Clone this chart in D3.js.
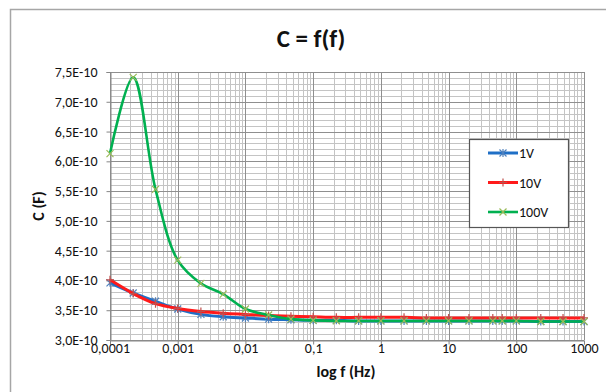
<!DOCTYPE html>
<html><head><meta charset="utf-8">
<script src="https://cdn.jsdelivr.net/npm/d3@7"></script>
<style>
body{margin:0;background:#fff;}
text{font-family:Carlito,Lato,"Open Sans",sans-serif;}
</style></head>
<body><svg id="c" width="606" height="392"></svg>
<script>
const freqs = [0.0001, 0.00022, 0.00047, 0.001, 0.0022, 0.0047, 0.01, 0.022, 0.047, 0.1, 0.22, 0.47, 1, 2.2, 4.7, 10, 20, 45, 62, 100, 230, 490, 1000];
const v1V   = [3.96, 3.79, 3.65, 3.52, 3.43, 3.39, 3.37, 3.35, 3.34, 3.33, 3.33, 3.32, 3.32, 3.32, 3.32, 3.32, 3.32, 3.32, 3.32, 3.32, 3.31, 3.31, 3.31];
const v10V  = [4.01, 3.78, 3.61, 3.53, 3.48, 3.45, 3.43, 3.41, 3.40, 3.39, 3.38, 3.38, 3.38, 3.38, 3.37, 3.37, 3.37, 3.37, 3.37, 3.37, 3.37, 3.37, 3.37];
const v100V = [6.13, 7.41, 5.53, 4.34, 3.95, 3.77, 3.52, 3.42, 3.35, 3.33, 3.32, 3.32, 3.32, 3.32, 3.32, 3.32, 3.32, 3.32, 3.32, 3.32, 3.31, 3.31, 3.31];
const seriesNames = ["1V", "10V", "100V"];
const xTickValues = [0.0001, 0.001, 0.01, 0.1, 1, 10, 100, 1000];
const xTickLabels = ["0,0001", "0,001", "0,01", "0,1", "1", "10", "100", "1000"];
const yTickValues = [3.0, 3.5, 4.0, 4.5, 5.0, 5.5, 6.0, 6.5, 7.0, 7.5];
const yTickLabels = ["3,0E-10", "3,5E-10", "4,0E-10", "4,5E-10", "5,0E-10", "5,5E-10", "6,0E-10", "6,5E-10", "7,0E-10", "7,5E-10"];
const titleText = "C = f(f)";
const xTitle = "log f (Hz)";
const yTitle = "C (F)";

const svg = d3.select("#c");
const L = 110, R = 584, T = 72, B = 340;
const x = d3.scaleLog().domain([0.0001, 1000]).range([L, R]);
const y = d3.scaleLinear().domain([3.0, 7.5]).range([B, T]);

svg.append("rect").attr("width",606).attr("height",392).attr("fill","#fff");
svg.append("rect").attr("x",10.5).attr("y",9.5).attr("width",620).attr("height",420)
  .attr("fill","none").attr("stroke","#a6a6a6").attr("stroke-width",1.5);

const g = svg.append("g");
const minorY = d3.range(30, 76).map(d => d/10).filter(d => Math.abs(d*2 - Math.round(d*2)) > 1e-6);
g.selectAll(".hy").data(minorY).enter().append("line")
  .attr("x1",L).attr("x2",R).attr("y1",d=>Math.round(y(d))+0.5).attr("y2",d=>Math.round(y(d))+0.5)
  .attr("stroke","#c4c4c4").attr("stroke-width",1);
const minorX = [];
for (let e = -4; e < 3; e++) for (let k = 2; k <= 9; k++) minorX.push(k*Math.pow(10,e));
g.selectAll(".vx").data(minorX).enter().append("line")
  .attr("y1",T).attr("y2",B).attr("x1",d=>Math.round(x(d))+0.5).attr("x2",d=>Math.round(x(d))+0.5)
  .attr("stroke","#c4c4c4").attr("stroke-width",1);
g.selectAll(".hY").data(yTickValues).enter().append("line")
  .attr("x1",L).attr("x2",R).attr("y1",d=>Math.round(y(d))+0.5).attr("y2",d=>Math.round(y(d))+0.5)
  .attr("stroke","#8f8f8f").attr("stroke-width",1);
g.selectAll(".vX").data(xTickValues).enter().append("line")
  .attr("y1",T).attr("y2",B).attr("x1",d=>Math.round(x(d))+0.5).attr("x2",d=>Math.round(x(d))+0.5)
  .attr("stroke","#8f8f8f").attr("stroke-width",1);

const ya = svg.append("g").attr("transform",`translate(${L+0.5},0)`)
  .call(d3.axisLeft(y).tickValues(yTickValues).tickFormat((d,i)=>yTickLabels[i]).tickSize(4).tickPadding(9));
const xa = svg.append("g").attr("transform",`translate(0,${B+0.5})`)
  .call(d3.axisBottom(x).tickValues(xTickValues).tickFormat((d,i)=>xTickLabels[i]).tickSize(4).tickPadding(2));
[ya, xa].forEach(a => {
  a.select(".domain").attr("stroke","#868686");
  a.selectAll(".tick line").attr("stroke","#868686");
  a.selectAll("text").attr("font-size",14).attr("fill","#111")
    .style("font-family","Carlito,Lato,'Open Sans',sans-serif");
});
xa.selectAll("text").attr("y",12).attr("dy",0);

const colors = ["#1f6fc6", "#ff1a1a", "#00b050"];
const mcolors = ["#4f81bd", "#c0504d", "#9bbb59"];
const data = [v1V, v10V, v100V];
const line = d3.line().x(d=>x(d[0])).y(d=>y(d[1])).curve(d3.curveCatmullRom.alpha(0.5));

function marker(sel, i, cx, cy) {
  const s = 3.5;
  const gg = sel.append("g").attr("transform",`translate(${cx},${cy})`)
    .attr("stroke",mcolors[i]).attr("stroke-width",1.2).attr("fill","none");
  if (i === 0) {
    gg.append("path").attr("d",`M${-s},${-s}L${s},${s}M${-s},${s}L${s},${-s}M0,${-s-0.5}L0,${s+0.5}`);
  } else if (i === 1) {
    gg.append("path").attr("d",`M${-s-0.5},0L${s+0.5},0M0,${-s-0.5}L0,${s+0.5}`);
  } else {
    gg.append("path").attr("d",`M${-s},${-s}L${s},${s}M${-s},${s}L${s},${-s}`);
  }
}

data.forEach((vals, i) => {
  const pts = freqs.map((f,j)=>[f, vals[j]]);
  svg.append("path").datum(pts).attr("d",line).attr("fill","none")
    .attr("stroke",colors[i]).attr("stroke-width",i===2?2.6:3).attr("stroke-linejoin","round");
  pts.forEach(p => marker(svg, i, x(p[0]), y(p[1])));
});

const lg = svg.append("g");
lg.append("rect").attr("x",469.5).attr("y",139.5).attr("width",99).attr("height",88)
  .attr("fill","#fff").attr("stroke","#555").attr("stroke-width",1.2);
seriesNames.forEach((n,i) => {
  const ly = 153 + i*29.5;
  lg.append("line").attr("x1",488).attr("x2",518).attr("y1",ly).attr("y2",ly)
    .attr("stroke",colors[i]).attr("stroke-width",i===2?2.6:3);
  marker(lg, i, 503, ly);
  lg.append("text").attr("x",519).attr("y",ly+5).attr("font-size",14).attr("fill","#111").text(n);
});

svg.append("text").attr("x",311).attr("y",47).attr("text-anchor","middle")
  .attr("font-size",25).attr("font-weight","bold").attr("fill","#111").text(titleText);
svg.append("text").attr("x",346).attr("y",377).attr("text-anchor","middle")
  .attr("font-size",16).attr("font-weight","bold").attr("fill","#111").text(xTitle);
svg.append("text").attr("transform","translate(44,206) rotate(-90)").attr("text-anchor","middle")
  .attr("font-size",16).attr("font-weight","bold").attr("fill","#111").text(yTitle);
</script></body></html>
